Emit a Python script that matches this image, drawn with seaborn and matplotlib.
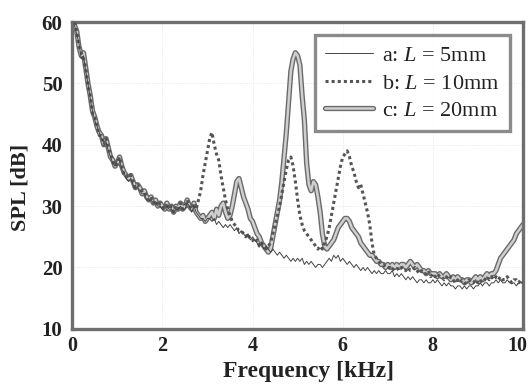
import numpy as np
import pandas as pd
import matplotlib
matplotlib.use("Agg")
import matplotlib.pyplot as plt
import matplotlib.patheffects as pe
import matplotlib.transforms as mtransforms
import seaborn as sns

# Frequency axis [kHz], 0.05 kHz steps
freq = np.round(np.arange(1, 201) * 0.05, 2)

# SPL [dB], one row per kHz
spl_a = [
    59.5, 58.0, 56.5, 54.0, 54.5, 52.0, 50.0, 47.5, 45.5, 44.0, 43.0, 42.0, 41.0, 40.5, 40.5, 39.0, 38.0, 37.0, 36.5, 37.5,
    37.5, 36.0, 35.5, 34.5, 34.0, 34.5, 33.5, 33.0, 33.0, 32.5, 32.0, 32.0, 31.0, 31.0, 31.0, 30.5, 30.5, 30.0, 30.0, 29.5,
    29.5, 30.0, 29.5, 29.5, 29.0, 29.5, 29.5, 30.0, 29.5, 29.5, 30.5, 30.0, 29.0, 30.0, 29.0, 28.5, 28.0, 28.0, 27.5, 28.0,
    28.0, 27.5, 28.0, 27.0, 27.5, 27.0, 26.5, 27.0, 26.5, 27.0, 26.5, 26.0, 26.5, 25.5, 26.0, 25.5, 25.0, 25.5, 24.5, 25.0,
    24.5, 24.0, 23.5, 24.0, 23.0, 23.5, 23.0, 22.5, 23.0, 22.5, 22.0, 22.5, 22.0, 21.5, 22.0, 21.5, 21.0, 21.5, 21.0, 21.5,
    21.0, 21.5, 20.5, 21.0, 20.5, 21.0, 20.5, 20.0, 20.5, 20.5, 20.0, 20.5, 21.0, 21.5, 21.0, 22.0, 21.5, 22.0, 21.0, 21.5,
    21.0, 20.5, 21.0, 20.5, 20.0, 20.5, 20.0, 19.5, 20.0, 19.5, 20.0, 19.5, 19.0, 19.5, 19.0, 19.5, 19.0, 19.0, 19.5, 19.0,
    19.0, 19.5, 18.5, 19.0, 18.5, 19.0, 18.5, 18.0, 18.5, 18.0, 18.5, 18.0, 17.5, 18.0, 18.0, 17.5, 18.0, 17.5, 17.5, 18.0,
    17.5, 18.0, 17.5, 17.0, 17.5, 17.0, 17.5, 17.0, 17.0, 16.5, 17.0, 17.0, 16.5, 17.0, 16.5, 17.0, 17.0, 16.5, 17.0, 17.0,
    17.5, 17.0, 17.5, 17.5, 17.0, 17.5, 17.5, 18.0, 17.5, 18.0, 17.5, 17.5, 18.0, 17.5, 17.5, 17.5, 17.0, 17.5, 17.5, 17.5,
]

spl_b = [
    60.0, 58.5, 56.0, 55.0, 54.0, 52.5, 49.5, 48.0, 45.0, 44.5, 43.0, 41.5, 41.5, 40.0, 41.0, 39.5, 38.5, 37.5, 36.5, 37.0,
    38.0, 36.5, 35.0, 35.0, 34.5, 35.0, 34.0, 33.0, 33.5, 33.0, 32.5, 32.5, 31.5, 31.0, 31.5, 30.5, 31.0, 30.0, 30.5, 30.0,
    29.5, 30.5, 29.5, 30.0, 29.0, 30.0, 29.5, 30.5, 29.5, 30.0, 31.0, 30.0, 29.5, 30.5, 29.5, 31.0, 32.5, 35.0, 37.0, 39.0,
    41.0, 42.0, 40.0, 38.5, 37.5, 35.0, 33.0, 31.0, 29.5, 28.5, 27.5, 27.0, 26.5, 26.0, 26.0, 25.5, 25.0, 25.5, 24.5, 24.5,
    24.0, 24.5, 23.5, 24.0, 23.5, 23.0, 23.5, 24.0, 25.5, 27.0, 28.5, 30.0, 32.0, 34.0, 36.0, 37.5, 38.0, 36.5, 34.0, 31.0,
    28.5, 27.0, 26.0, 25.5, 25.0, 24.5, 24.0, 23.5, 23.0, 23.5, 23.0, 24.0, 25.0, 26.5, 28.5, 30.5, 32.5, 34.5, 36.5, 38.0,
    38.5, 39.0, 38.0, 36.5, 35.5, 34.0, 33.0, 33.5, 32.0, 30.5, 29.0, 27.0, 24.0, 22.0, 21.5, 21.0, 20.5, 20.5, 20.0, 20.0,
    20.0, 19.5, 20.0, 20.0, 19.5, 20.0, 19.5, 19.5, 20.0, 19.5, 19.5, 20.0, 19.5, 19.0, 19.5, 19.0, 19.0, 19.5, 18.5, 19.0,
    18.5, 19.0, 18.5, 18.5, 18.0, 18.5, 18.0, 18.5, 18.0, 17.5, 18.0, 17.5, 18.0, 17.5, 17.5, 18.0, 17.5, 17.5, 18.0, 17.5,
    18.0, 17.5, 18.0, 18.5, 18.0, 18.5, 18.0, 18.5, 18.0, 18.5, 18.0, 18.0, 18.5, 18.0, 17.5, 18.0, 18.0, 17.5, 18.0, 17.5,
]

spl_c = [
    59.5, 58.5, 56.0, 54.5, 55.0, 52.5, 50.0, 48.0, 45.5, 44.5, 43.0, 42.0, 41.5, 40.0, 41.0, 39.5, 38.0, 37.5, 36.5, 37.0,
    38.0, 36.5, 35.5, 35.0, 34.5, 35.0, 34.0, 33.0, 33.5, 33.0, 32.0, 32.5, 31.5, 31.0, 31.5, 30.5, 31.0, 30.0, 30.5, 30.0,
    29.5, 30.5, 29.5, 30.0, 29.0, 30.0, 29.5, 30.5, 29.5, 30.0, 31.0, 30.0, 29.5, 30.5, 29.0, 28.5, 28.0, 28.5, 27.5, 28.0,
    28.5, 29.0, 28.0, 29.5, 28.5, 30.0, 30.5, 29.0, 28.0, 28.5, 30.0, 32.0, 34.0, 34.5, 33.0, 31.5, 30.5, 29.5, 28.0, 27.5,
    26.5, 25.5, 25.0, 24.0, 23.5, 23.0, 22.5, 23.0, 25.0, 27.0, 29.0, 31.0, 34.0, 38.0, 42.0, 47.0, 52.0, 54.0, 55.0, 54.5,
    53.0, 48.0, 44.0, 37.0, 33.5, 32.5, 34.0, 33.5, 31.5, 29.0, 25.5, 23.5, 23.0, 23.5, 24.0, 24.5, 25.5, 26.5, 27.0, 27.5,
    28.0, 28.0, 27.5, 26.5, 26.0, 25.5, 25.0, 24.0, 23.5, 23.0, 22.5, 22.0, 22.0, 21.5, 21.0, 21.0, 20.5, 20.5, 20.0, 20.5,
    20.0, 20.5, 20.0, 20.5, 20.0, 20.5, 20.5, 20.0, 20.5, 21.0, 20.5, 20.0, 20.5, 20.0, 19.5, 19.5, 19.0, 19.5, 19.0, 19.0,
    19.0, 18.5, 19.0, 18.5, 18.5, 19.0, 18.5, 18.0, 18.5, 18.0, 18.5, 18.0, 18.0, 17.5, 18.0, 18.0, 17.5, 18.0, 18.5, 18.0,
    18.5, 18.0, 18.5, 19.0, 18.5, 19.0, 19.0, 19.5, 20.5, 21.5, 22.0, 22.5, 23.0, 23.5, 24.0, 24.5, 25.5, 26.0, 26.5, 27.0,
]

labels = ["a: $L$ = 5mm", "b: $L$ = 10mm", "c: $L$ = 20mm"]
x_ticks = [0, 2, 4, 6, 8, 10]
y_ticks = [10, 20, 30, 40, 50, 60]

sns.set_theme(style="white")
plt.rcParams["font.family"] = ["Liberation Serif", "DejaVu Serif"]
plt.rcParams["mathtext.fontset"] = "custom"
plt.rcParams["mathtext.rm"] = "Liberation Serif"
plt.rcParams["mathtext.it"] = "Liberation Serif:italic"

df = pd.DataFrame({"freq": freq, "a": spl_a, "b": spl_b, "c": spl_c})

fig = plt.figure(figsize=(5.31, 3.86), dpi=100)
ax = fig.add_axes([0.136, 0.148, 0.849, 0.795])

# thick gray curve first, then dotted, then thin solid on top
sns.lineplot(data=df, x="freq", y="c", ax=ax, color="#cfcfcf", linewidth=1.8,
             label=labels[2], zorder=2,
             path_effects=[pe.Stroke(linewidth=3.8, foreground="#6a6a6a"), pe.Normal()])
sns.lineplot(data=df, x="freq", y="b", ax=ax, color="#555555", linewidth=2.2,
             linestyle=(0, (1, 1)), label=labels[1], zorder=3)
sns.lineplot(data=df, x="freq", y="a", ax=ax, color="#444444", linewidth=0.7,
             label=labels[0], zorder=4)

ax.set_xlim(0, 10)
ax.set_ylim(10, 60)
ax.set_xticks(x_ticks)
ax.set_yticks(y_ticks)
ax.grid(True, color="#e2e2e2", linestyle=":", linewidth=0.6)
ax.tick_params(axis="y", length=0, pad=7, labelsize=15)
ax.tick_params(axis="x", length=0, pad=5, labelsize=14.5)
for t in ax.get_xticklabels() + ax.get_yticklabels():
    t.set_fontweight("bold")
    t.set_color("#222222")
# keep the last x label inside the figure
last = ax.get_xticklabels()[-1]
last.set_transform(last.get_transform() +
                   mtransforms.ScaledTranslation(-4 / 72, 0, fig.dpi_scale_trans))

for s in ax.spines.values():
    s.set_linewidth(2.4)
    s.set_color("#6e6e6e")

ax.set_xlabel("Frequency [kHz]", fontsize=17, fontweight="bold", color="#222222")
ax.set_ylabel("SPL [dB]", fontsize=16, fontweight="bold", color="#222222")
ax.xaxis.set_label_coords(0.525, -0.105)
ax.yaxis.set_label_coords(-0.092, 0.46)

handles, labs = ax.get_legend_handles_labels()
leg = ax.legend(handles[::-1], labs[::-1], loc="upper right", fontsize=16,
                frameon=True, fancybox=False, edgecolor="#6e6e6e",
                borderaxespad=0.6, handlelength=2.2, handletextpad=0.4,
                labelspacing=0.32, borderpad=0.45)
leg.get_frame().set_linewidth(2.4)
for t in leg.get_texts():
    t.set_color("#222222")

plt.savefig("out.png", dpi=100)
